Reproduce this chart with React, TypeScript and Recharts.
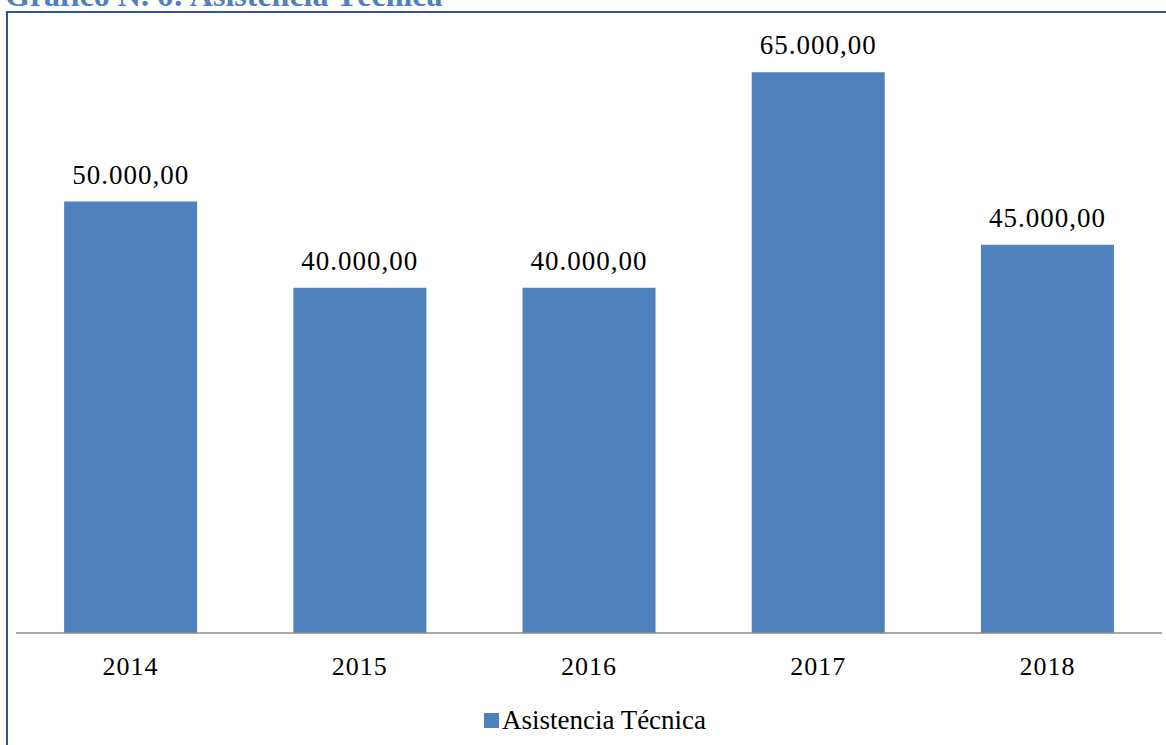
import { BarChart, Bar, XAxis, YAxis, LabelList, Legend } from "recharts";

const YEARS = ["2014", "2015", "2016", "2017", "2018"];
const ASISTENCIA = [50000, 40000, 40000, 65000, 45000];

const data = YEARS.map((year, i) => ({ year, value: ASISTENCIA[i] }));

const SERIF = "'Liberation Serif', 'Times New Roman', serif";

// 50000 -> "50.000,00"
const fmt = (v: number) => {
  const [int, dec] = Number(v).toFixed(2).split(".");
  return int.replace(/\B(?=(\d{3})+(?!\d))/g, ".") + "," + dec;
};

const LegendContent = () => (
  <div
    style={{
      display: "flex",
      justifyContent: "center",
      alignItems: "center",
      fontFamily: SERIF,
      fontSize: 27,
      lineHeight: "31px",
      color: "#000",
      paddingTop: 6,
      paddingLeft: 12,
    }}
  >
    <span
      style={{
        width: 15,
        height: 15,
        background: "#4F81BD",
        display: "inline-block",
        marginRight: 3,
      }}
    />
    Asistencia Técnica
  </div>
);

export default function App() {
  return (
    <div
      style={{
        position: "fixed",
        top: 0,
        left: 0,
        width: 1166,
        height: 745,
        background: "#fff",
        overflow: "hidden",
      }}
    >
      <div
        style={{
          position: "absolute",
          top: -23,
          left: 5,
          fontFamily: SERIF,
          fontWeight: "bold",
          fontSize: 32,
          color: "#4F81BD",
          whiteSpace: "nowrap",
        }}
      >
        Gráfico N. 6: Asistencia Técnica
      </div>
      <div
        style={{
          position: "absolute",
          top: 11,
          left: 6,
          width: 1200,
          height: 800,
          border: "2.5px solid #2F5597",
          boxSizing: "border-box",
        }}
      />
      <div style={{ position: "absolute", top: 0, left: 0 }}>
        <BarChart
          width={1166}
          height={745}
          data={data}
          margin={{ top: 29, right: 4, left: 16, bottom: 0 }}
          barCategoryGap="21%"
        >
          <XAxis
            dataKey="year"
            tickLine={false}
            axisLine={{ stroke: "#8C8C8C", strokeWidth: 1.5 }}
            tick={{
              fontFamily: SERIF,
              fontSize: 26,
              fill: "#000",
              letterSpacing: 1,
            }}
            tickMargin={18}
            height={66}
          />
          <YAxis hide domain={[0, 70000]} />
          <Legend
            verticalAlign="bottom"
            height={46}
            content={<LegendContent />}
          />
          <Bar dataKey="value" fill="#4F81BD" isAnimationActive={false}>
            <LabelList
              dataKey="value"
              position="top"
              offset={18}
              formatter={(v: any) => fmt(v)}
              style={{
                fontFamily: SERIF,
                fontSize: 27,
                fill: "#000",
                letterSpacing: 1,
              }}
            />
          </Bar>
        </BarChart>
      </div>
    </div>
  );
}
